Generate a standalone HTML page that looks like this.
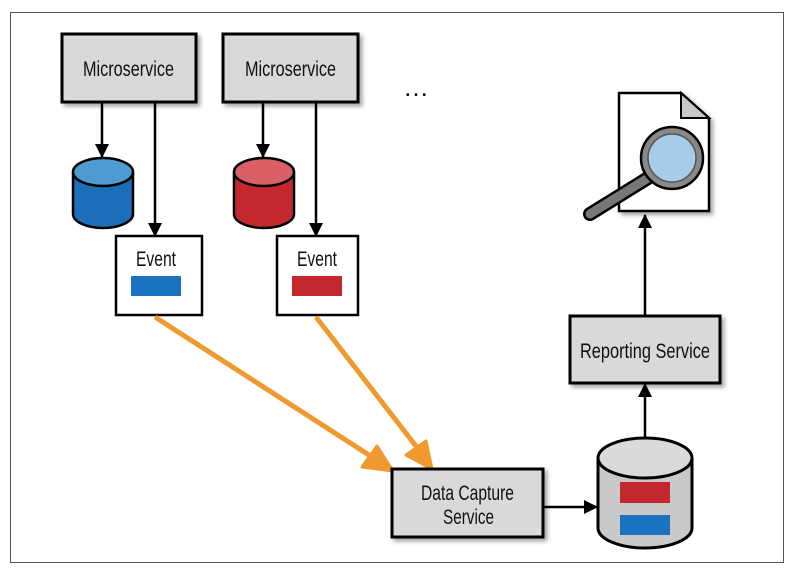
<!DOCTYPE html>
<html><head><meta charset="utf-8"><style>
body{margin:0;background:#fff;width:794px;height:584px;overflow:hidden}
svg{display:block}
text{font-family:"Liberation Sans",sans-serif;fill:#111}
</style></head><body>
<svg width="794" height="584" viewBox="0 0 794 584">
<defs>
<marker id="ah" markerWidth="14" markerHeight="14" refX="13" refY="7" orient="auto" markerUnits="userSpaceOnUse"><path d="M0,0 L14,7 L0,14 z" fill="#000"/></marker>
<filter id="sh" x="-10%" y="-10%" width="130%" height="130%"><feDropShadow dx="3" dy="3" stdDeviation="2" flood-color="#000" flood-opacity="0.35"/></filter>
</defs>
<rect x="10.5" y="12.5" width="773" height="550" fill="#fff" stroke="#555" stroke-width="1"/>
<!-- microservices -->
<rect x="62" y="34" width="134" height="68" fill="#d9d9d9" stroke="#000" stroke-width="3" filter="url(#sh)"/>
<text x="83" y="76" font-size="21" textLength="91" lengthAdjust="spacingAndGlyphs">Microservice</text>
<rect x="223" y="34" width="135" height="68" fill="#d9d9d9" stroke="#000" stroke-width="3" filter="url(#sh)"/>
<text x="245" y="76" font-size="21" textLength="91" lengthAdjust="spacingAndGlyphs">Microservice</text>
<text x="416" y="96" font-size="26" text-anchor="middle">…</text>
<!-- arrows -->
<line x1="102" y1="103" x2="102" y2="157" stroke="#000" stroke-width="2.5" marker-end="url(#ah)"/>
<line x1="155" y1="103" x2="155" y2="236" stroke="#000" stroke-width="2.5" marker-end="url(#ah)"/>
<line x1="263" y1="103" x2="263" y2="157" stroke="#000" stroke-width="2.5" marker-end="url(#ah)"/>
<line x1="316" y1="103" x2="316" y2="236" stroke="#000" stroke-width="2.5" marker-end="url(#ah)"/>
<!-- blue cylinder -->
<path d="M73,172 L73,214 A30,14 0 0 0 133,214 L133,172" fill="#1a6fb8" stroke="#000" stroke-width="2.5"/>
<ellipse cx="103" cy="172" rx="30" ry="14" fill="#4f9bd1" stroke="#000" stroke-width="2.5"/>
<!-- red cylinder -->
<path d="M234,172 L234,214 A30,14 0 0 0 294,214 L294,172" fill="#c4282f" stroke="#000" stroke-width="2.5"/>
<ellipse cx="264" cy="172" rx="30" ry="14" fill="#d96066" stroke="#000" stroke-width="2.5"/>
<!-- events -->
<rect x="116" y="236" width="86" height="79" fill="#fff" stroke="#000" stroke-width="2.5"/>
<text x="136" y="266" font-size="21" textLength="40" lengthAdjust="spacingAndGlyphs">Event</text>
<rect x="131" y="276" width="50" height="20" fill="#1a73c0"/>
<rect x="277" y="236" width="81" height="79" fill="#fff" stroke="#000" stroke-width="2.5"/>
<text x="297" y="266" font-size="21" textLength="40" lengthAdjust="spacingAndGlyphs">Event</text>
<rect x="292" y="276" width="50" height="20" fill="#c4282f"/>
<!-- orange arrows -->
<line x1="155" y1="317" x2="372" y2="457" stroke="#f0992f" stroke-width="5"/>
<path d="M393,471 L362,467 L377,446 z" fill="#f0992f" stroke="#f0992f" stroke-width="3" stroke-linejoin="round"/>
<line x1="316" y1="317" x2="419" y2="450" stroke="#f0992f" stroke-width="5"/>
<path d="M432,469 L406,455 L426,441 z" fill="#f0992f" stroke="#f0992f" stroke-width="3" stroke-linejoin="round"/>
<!-- data capture -->
<rect x="392" y="469" width="151" height="68" fill="#d9d9d9" stroke="#000" stroke-width="3" filter="url(#sh)"/>
<text x="421" y="500" font-size="21" textLength="93" lengthAdjust="spacingAndGlyphs">Data Capture</text>
<text x="443" y="524" font-size="21" textLength="51" lengthAdjust="spacingAndGlyphs">Service</text>
<line x1="543" y1="507" x2="597" y2="507" stroke="#000" stroke-width="2.5" marker-end="url(#ah)"/>
<!-- central DB -->
<path d="M598,458 L598,528 A47,20 0 0 0 692,528 L692,458" fill="#c9c9c9" stroke="#000" stroke-width="3"/>
<ellipse cx="645" cy="458" rx="47" ry="20" fill="#dadada" stroke="#000" stroke-width="3"/>
<rect x="620" y="482" width="50" height="21" fill="#c4282f"/>
<rect x="620" y="515" width="50" height="20" fill="#1a73c0"/>
<line x1="645" y1="437" x2="645" y2="384" stroke="#000" stroke-width="2.5" marker-end="url(#ah)"/>
<!-- reporting -->
<rect x="570" y="316" width="150" height="67" fill="#d9d9d9" stroke="#000" stroke-width="3" filter="url(#sh)"/>
<text x="580" y="358" font-size="21" textLength="130" lengthAdjust="spacingAndGlyphs">Reporting Service</text>
<line x1="645" y1="316" x2="645" y2="215" stroke="#000" stroke-width="2.5" marker-end="url(#ah)"/>
<!-- document -->
<path d="M619,93 L681,93 L709,118 L709,211 L619,211 z" fill="#fff" stroke="#000" stroke-width="2.5" filter="url(#sh)"/>
<path d="M681,93 L681,118 L709,118 z" fill="#c8c8c8" stroke="#000" stroke-width="2"/>
<line x1="648" y1="178" x2="590" y2="214" stroke="#000" stroke-width="14" stroke-linecap="round"/>
<line x1="648" y1="178" x2="590" y2="214" stroke="#777" stroke-width="9" stroke-linecap="round"/>
<circle cx="672" cy="158" r="31" fill="#888" stroke="#000" stroke-width="2.5"/>
<circle cx="672" cy="158" r="24" fill="#a7cbe8" stroke="#555" stroke-width="1.5"/>
</svg>
</body></html>
